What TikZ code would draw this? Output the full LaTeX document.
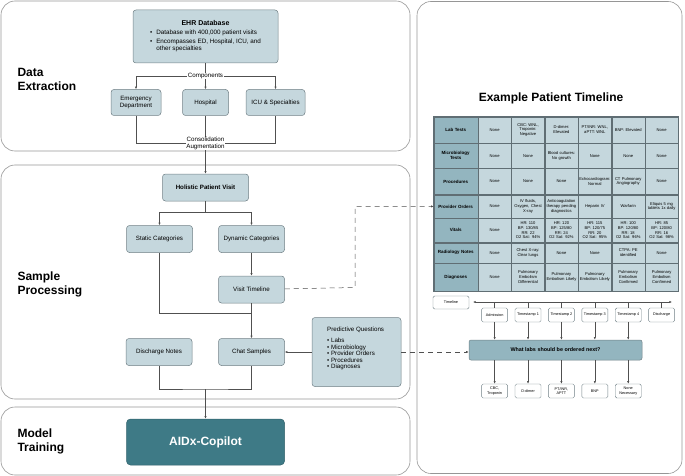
\documentclass[tikz,border=0pt]{standalone}
\usepackage{fontspec}
\setmainfont{Liberation Sans}
\usetikzlibrary{positioning, arrows.meta, matrix}

\definecolor{boxfill}{RGB}{197,215,221}
\definecolor{boxline}{RGB}{112,128,134}
\definecolor{headfill}{RGB}{147,181,191}
\definecolor{copilot}{RGB}{62,122,134}
\definecolor{panelline}{RGB}{150,150,150}
\definecolor{linegray}{RGB}{80,80,80}
\definecolor{gridline}{RGB}{96,110,116}

\begin{document}
\begin{tikzpicture}[
    x=1pt, y=-1pt,
    font=\fontsize{6.2}{7}\selectfont,
    panel/.style={
        rectangle,
        draw=panelline,
        rounded corners=14pt,
        line width=0.6pt
    },
    box/.style={
        rectangle,
        rounded corners=3pt,
        draw=boxline,
        fill=boxfill,
        line width=0.5pt,
        align=center,
        minimum width=66pt,
        minimum height=27pt
    },
    heading/.style={anchor=west, align=left, font=\fontsize{12}{14}\selectfont\bfseries},
    flowtext/.style={fill=white, inner sep=0.6pt, align=center},
    cell/.style={
        rectangle,
        draw=gridline,
        fill=boxfill,
        line width=0.4pt,
        outer sep=0pt,
        inner xsep=1pt,
        inner ysep=0.5pt,
        text width=31pt,
        align=center,
        anchor=center,
        font=\fontsize{4.1}{4.7}\selectfont
    },
    headcell/.style={fill=headfill, text width=42pt, font=\fontsize{4.5}{5.2}\selectfont\bfseries},
    tsbox/.style={
        rectangle,
        rounded corners=1.5pt,
        draw=boxline,
        fill=white,
        line width=0.4pt,
        minimum width=26pt,
        minimum height=14pt,
        inner sep=0.5pt,
        align=center,
        font=\fontsize{3.8}{4.4}\selectfont
    },
    arrow/.style={draw=linegray, line width=0.5pt, -{Latex[length=2.6pt, width=2.2pt]}},
    link/.style={draw=linegray, line width=0.5pt},
    dashedarrow/.style={arrow, dash pattern=on 5pt off 4pt}
]

\useasboundingbox (0,0) rectangle (685,476);

% Panels
\node[panel, minimum width=409pt, minimum height=150pt] (pdata) at (205.5,76) {};
\node[panel, minimum width=409pt, minimum height=234pt] (psample) at (205.5,282) {};
\node[panel, minimum width=409pt, minimum height=68pt] (pmodel) at (205.5,441) {};
\node[panel, minimum width=265pt, minimum height=472pt] (ptimeline) at (549.5,237.5) {};

\node[heading] (hdata) at (14,79) {Data\\Extraction};
\node[heading] (hsample) at (14,284.5) {Sample\\Processing};
\node[heading] (hmodel) at (14,441) {Model\\Training};

% Data extraction
\node[box, minimum width=145pt, minimum height=53pt] (ehr) at (205.5,36.5) {
    {\fontsize{7}{8}\selectfont\bfseries EHR Database}\\[3pt]
    {\fontsize{6.3}{7.2}\selectfont
    \begin{tabular}{@{}l@{\hspace{4pt}}l@{}}
    \textbullet & Database with 400,000 patient visits\\[1.5pt]
    \textbullet & Encompasses ED, Hospital, ICU, and\\
                & other specialties
    \end{tabular}}
};

\node[box, below=26pt of ehr, minimum width=46pt, minimum height=26pt] (hosp) {Hospital};
\node[box, left=21pt of hosp, minimum width=50pt, minimum height=26pt] (ed) {Emergency\\Department};
\node[box, right=17pt of hosp, minimum width=59pt, minimum height=26pt] (icu) {ICU \& Specialties};

\coordinate (comp) at (205.5,76);
\coordinate (cons) at (205.5,143.5);

\draw[link] (ehr) -- (comp);
\draw[arrow] (comp) -| (ed);
\draw[arrow] (comp) -- (hosp);
\draw[arrow] (comp) -| (icu);
\node[flowtext] (complbl) at (comp) {Components};

\node[box, below=58pt of hosp, minimum width=86pt, font=\fontsize{6.2}{7}\selectfont\bfseries] (hpv) {Holistic Patient Visit};

\draw[link] (ed) |- (cons) -| (icu);
\draw[link] (hosp) -- (cons);
\draw[arrow] (cons) -- (hpv);
\node[flowtext] (conslbl) at (cons) {Consolidation\\Augmentation};

% Sample processing
\node[box, below=24pt of hpv, xshift=-46pt] (static) {Static Categories};
\node[box, below=24pt of hpv, xshift=46pt] (dynamic) {Dynamic Categories};
\node[box, below=23pt of dynamic] (visit) {Visit Timeline};
\node[box, below=35pt of visit] (chat) {Chat Samples};
\node[box, left=26pt of chat] (discharge) {Discharge Notes};
\node[box, right=27pt of chat, minimum width=89pt, minimum height=69pt, font=\fontsize{6.2}{6.6}\selectfont] (pq) {
    \begin{tabular}{@{}l@{}}
    \multicolumn{1}{@{}c@{}}{Predictive Questions}\\[4pt]
    \textbullet\ Labs\\
    \textbullet\ Microbiology\\
    \textbullet\ Provider Orders\\
    \textbullet\ Procedures\\
    \textbullet\ Diagnoses\\[6pt]
    \end{tabular}
};

\coordinate (split) at (205.5,212);
\coordinate (merge) at (251.5,313);
\coordinate (join) at (205.5,389);

\draw[link] (hpv) -- (split);
\draw[arrow] (split) -| (static);
\draw[arrow] (split) -| (dynamic);
\draw[arrow] (dynamic) -- (visit);
\draw[link] (static) |- (merge);
\draw[arrow] (visit) -- (chat);
\draw[arrow] (pq) -- (chat);
\draw[link] (discharge) |- (join) -| (chat);

% Model training
\node[box, below=53pt of chat, xshift=-46pt, minimum width=158pt, minimum height=46pt,
      rounded corners=4pt, fill=copilot, draw=copilot!80!black, text=white,
      font=\fontsize{12}{14}\selectfont\bfseries] (aidx) {AIDx-Copilot};
\draw[arrow] (join) -- (aidx);

% Example patient timeline
\node[font=\fontsize{12}{14}\selectfont\bfseries] (ttitle) at (551,98) {Example Patient Timeline};

\matrix (tbl) [matrix of nodes, anchor=north west, column sep=0pt, row sep=0pt,
    nodes={cell},
    column 1/.style={nodes={headcell}},
    row 1/.style={nodes={minimum height=26pt}},
    row 2/.style={nodes={minimum height=25pt}},
    row 3/.style={nodes={minimum height=26pt}},
    row 4/.style={nodes={minimum height=23pt}},
    row 5/.style={nodes={minimum height=24pt}},
    row 6/.style={nodes={minimum height=20pt}},
    row 7/.style={nodes={minimum height=28pt}}] at (430,113) {
    Lab Tests & None & {CBC: WNL,\\Troponin:\\Negative} & {D-dimer:\\Elevated} & {PT/INR: WNL,\\aPTT: WNL} & BNP: Elevated & None \\
    {Microbiology\\Tests} & None & None & {Blood cultures:\\No growth} & None & None & None \\
    Procedures & None & None & None & {Echocardiogram:\\Normal} & {CT Pulmonary\\Angiography} & None \\
    Provider Orders & None & {IV fluids,\\Oxygen, Chest\\X-ray} & {Anticoagulation\\therapy pending\\diagnostics} & Heparin IV & Warfarin & {Eliquis 5 mg\\tablets 1x daily} \\
    Vitals & None & {HR: 110\\BP: 130/85\\RR: 22\\O2 Sat: 94\%} & {HR: 120\\BP: 125/80\\RR: 24\\O2 Sat: 92\%} & {HR: 115\\BP: 120/75\\RR: 20\\O2 Sat: 95\%} & {HR: 100\\BP: 120/80\\RR: 18\\O2 Sat: 96\%} & {HR: 85\\BP: 120/80\\RR: 16\\O2 Sat: 98\%} \\
    Radiology Notes & None & {Chest X-ray:\\Clear lungs} & None & None & {CTPA: PE\\identified} & None \\
    Diagnoses & None & {Pulmonary\\Embolism\\Differential} & {Pulmonary\\Embolism Likely} & {Pulmonary\\Embolism Likely} & {Pulmonary\\Embolism\\Confirmed} & {Pulmonary\\Embolism\\Confirmed} \\
};
\draw[draw=gridline, line width=0.8pt] (tbl-1-1.north west) rectangle (tbl-7-7.south east);

% Timeline axis
\node[tsbox, minimum width=36pt, minimum height=13pt] (tlbox) at (451,302.5) {Timeline};
\coordinate (tla) at (473,302);
\coordinate (tlb) at (672,302);
\draw[link, {Latex[length=2.6pt, width=2.2pt]}-{Latex[length=2.6pt, width=2.2pt]}] (tla) -- (tlb);

\coordinate (tsrow) at (0,315);
\node[tsbox] (ts1) at (tbl-1-2 |- tsrow) {Admission};
\node[tsbox] (ts2) at (tbl-1-3 |- tsrow) {Timestamp 1};
\node[tsbox] (ts3) at (tbl-1-4 |- tsrow) {Timestamp 2};
\node[tsbox] (ts4) at (tbl-1-5 |- tsrow) {Timestamp 3};
\node[tsbox] (ts5) at (tbl-1-6 |- tsrow) {Timestamp 4};
\node[tsbox] (ts6) at (tbl-1-7 |- tsrow) {Discharge};

\draw[link] (ts1 |- tla) -- (ts1);
\draw[link] (ts2 |- tla) -- (ts2);
\draw[link] (ts3 |- tla) -- (ts3);
\draw[link] (ts4 |- tla) -- (ts4);
\draw[link] (ts5 |- tla) -- (ts5);
\draw[link] (ts6 |- tla) -- (ts6);

% Question and answers
\node[rectangle, rounded corners=2pt, draw=boxline, fill=headfill, line width=0.5pt,
      minimum width=173pt, minimum height=20pt,
      font=\fontsize{5.4}{6}\selectfont\bfseries] (question) at (555.5,350) {What labs should be ordered next?};

\draw[arrow] (ts1) -- (ts1 |- question.north);
\draw[arrow] (ts2) -- (ts2 |- question.north);
\draw[arrow] (ts3) -- (ts3 |- question.north);
\draw[arrow] (ts4) -- (ts4 |- question.north);
\draw[arrow] (ts5) -- (ts5 |- question.north);

\coordinate (ansrow) at (0,391);
\node[tsbox] (ans1) at (tbl-1-2 |- ansrow) {CBC,\\Troponin};
\node[tsbox] (ans2) at (tbl-1-3 |- ansrow) {D-dimer};
\node[tsbox] (ans3) at (tbl-1-4 |- ansrow) {PT/INR,\\APTT};
\node[tsbox] (ans4) at (tbl-1-5 |- ansrow) {BNP};
\node[tsbox] (ans5) at (tbl-1-6 |- ansrow) {None\\Necessary};

\draw[arrow] (ans1 |- question.south) -- (ans1);
\draw[arrow] (ans2 |- question.south) -- (ans2);
\draw[arrow] (ans3 |- question.south) -- (ans3);
\draw[arrow] (ans4 |- question.south) -- (ans4);
\draw[arrow] (ans5 |- question.south) -- (ans5);

% Cross-panel flows
\coordinate (bend) at (355,287.5);
\draw[dashedarrow] (visit) -- (bend) |- (tbl-4-1);
\draw[dashedarrow] (pq.east) -- (pq.east -| question.west);

\end{tikzpicture}
\end{document}
